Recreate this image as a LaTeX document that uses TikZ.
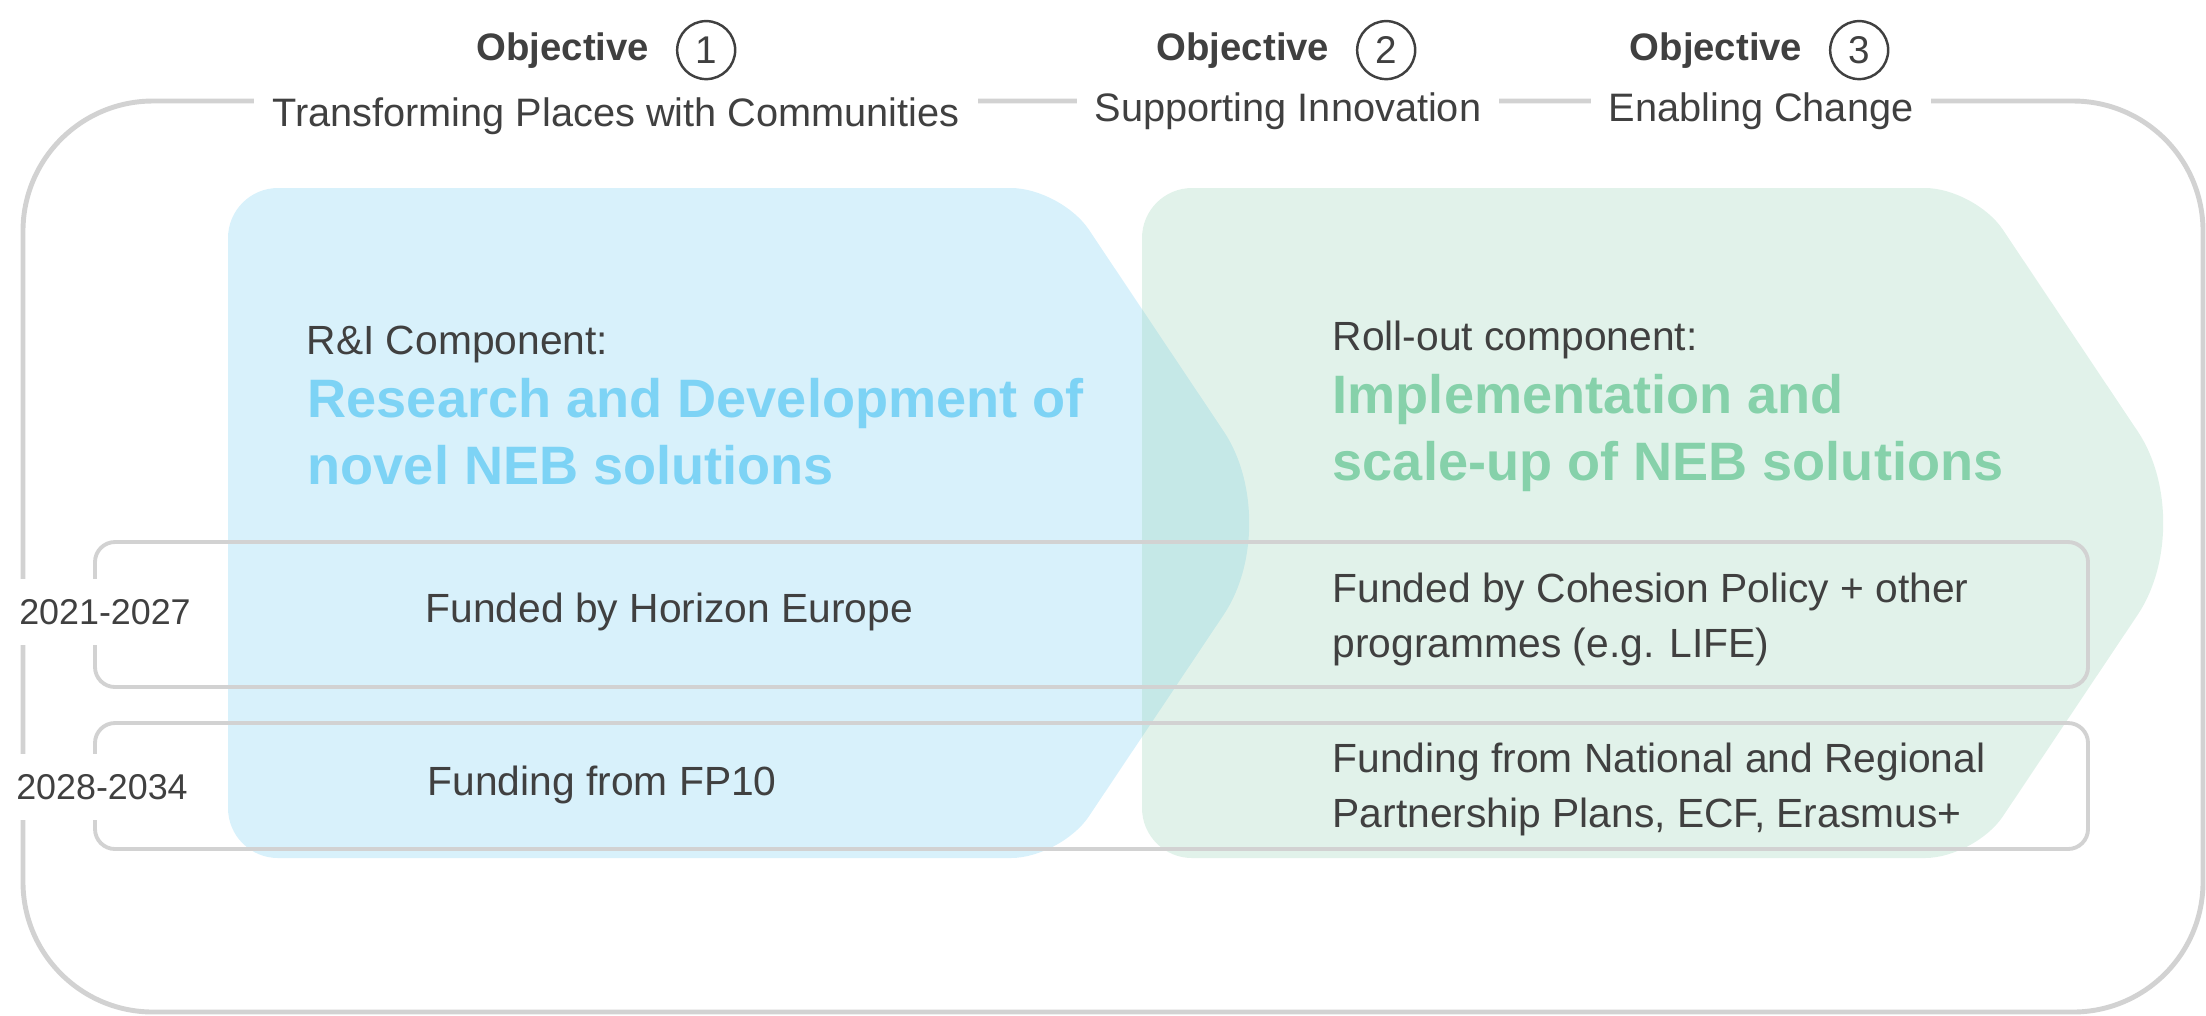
\documentclass[tikz,border=0pt]{standalone}
\usepackage{fontspec}
\setmainfont{Liberation Sans}
\usetikzlibrary{positioning}

\definecolor{txtgray}{HTML}{404040}
\definecolor{linegray}{HTML}{D2D2D2}
\definecolor{rifill}{HTML}{D8F1FB}
\definecolor{rihead}{HTML}{7DD3F5}
\definecolor{rollfill}{HTML}{94D1B4}
\definecolor{rollhead}{HTML}{86D1AA}

\begin{document}
\begin{tikzpicture}[
  frameline/.style={draw=linegray,line width=1.4pt},
  rowbox/.style={draw=linegray,line width=1.1pt,rounded corners=0.2cm,minimum width=19.93cm,inner sep=0pt},
  yearlbl/.style={fill=white,text=txtgray,inner xsep=0.04cm,inner ysep=0.2cm,font=\fontsize{10.2}{12}\selectfont},
  objword/.style={text=txtgray,inner sep=0pt,font=\fontsize{10.9}{13}\selectfont\bfseries},
  numcirc/.style={circle,draw=txtgray,line width=0.7pt,minimum size=0.58cm,inner sep=0pt,text=txtgray,font=\fontsize{11}{13}\selectfont},
  goal/.style={fill=white,text=txtgray,inner xsep=0.18cm,inner ysep=0.1cm,font=\fontsize{11.3}{13}\selectfont},
  body/.style={anchor=base west,inner sep=0pt,align=left,text=txtgray,font=\fontsize{11.6}{15.6}\selectfont},
  headblue/.style={anchor=base west,inner sep=0pt,align=left,text=rihead,font=\fontsize{15.4}{18.8}\selectfont\bfseries},
  headgreen/.style={headblue,text=rollhead}
]
\useasboundingbox (0,0) rectangle (22.06,-10.15);

% R&I component arrow
\fill[rifill,rounded corners=0.5cm] (2.28,-5.23) -- (2.28,-1.88) -- (10.61,-1.88)
  [rounded corners=1.1cm] -- (12.85,-5.23) [rounded corners=0.5cm] -- (10.61,-8.58) -- (2.28,-8.58) -- cycle;

% Roll-out component arrow
\begin{scope}[xshift=9.14cm]
\fill[rollfill,fill opacity=0.28,rounded corners=0.5cm] (2.28,-5.23) -- (2.28,-1.88) -- (10.61,-1.88)
  [rounded corners=1.1cm] -- (12.85,-5.23) [rounded corners=0.5cm] -- (10.61,-8.58) -- (2.28,-8.58) -- cycle;
\end{scope}

% outer frame and the two funding periods
\draw[frameline,rounded corners=1.3cm] (0.23,-1.01) rectangle (22.03,-10.12);
\node[rowbox,minimum height=1.45cm] (row1) at (10.915,-6.145) {};
\node[rowbox,minimum height=1.26cm] (row2) at (10.915,-7.86) {};
\node[yearlbl] (yr1) at (1.05,-6.12) {2021-2027};
\node[yearlbl] (yr2) at (1.02,-7.87) {2028-2034};

% objectives on top
\foreach \n/\ox/\gx/\gy/\goaltext in {1/5.63/6.16/1.26/Transforming Places with Communities,
    2/12.43/12.88/1.21/Supporting Innovation, 3/17.16/17.61/1.21/Enabling Change} {
  \node[objword,anchor=base] (obj\n) at (\ox,-0.60) {Objective};
  \node[numcirc,right=0.26cm of obj\n] (num\n) {\n};
  \node[goal,anchor=base] (goal\n) at (\gx,-\gy) {\goaltext};
}

% texts in the arrows (base = last line)
\node[body] (ri) at (3.06,-3.54) {R\&I Component:};
\node[headblue] (rihd) at (3.07,-4.84) {Research and Development of\\novel NEB solutions};
\node[body] (ro) at (13.32,-3.50) {Roll-out component:};
\node[headgreen] (rohd) at (13.32,-4.80) {Implementation and\\scale-up of NEB solutions};

\node[body] (he) at (4.25,-6.22) {Funded by Horizon Europe};
\node[body] (fp) at (4.27,-7.95) {Funding from FP10};
\node[body] (cp) at (13.32,-6.57) {Funded by Cohesion Policy + other\\programmes (e.g. LIFE)};
\node[body] (nr) at (13.32,-8.27) {Funding from National and Regional\\Partnership Plans, ECF, Erasmus+};
\end{tikzpicture}
\end{document}
